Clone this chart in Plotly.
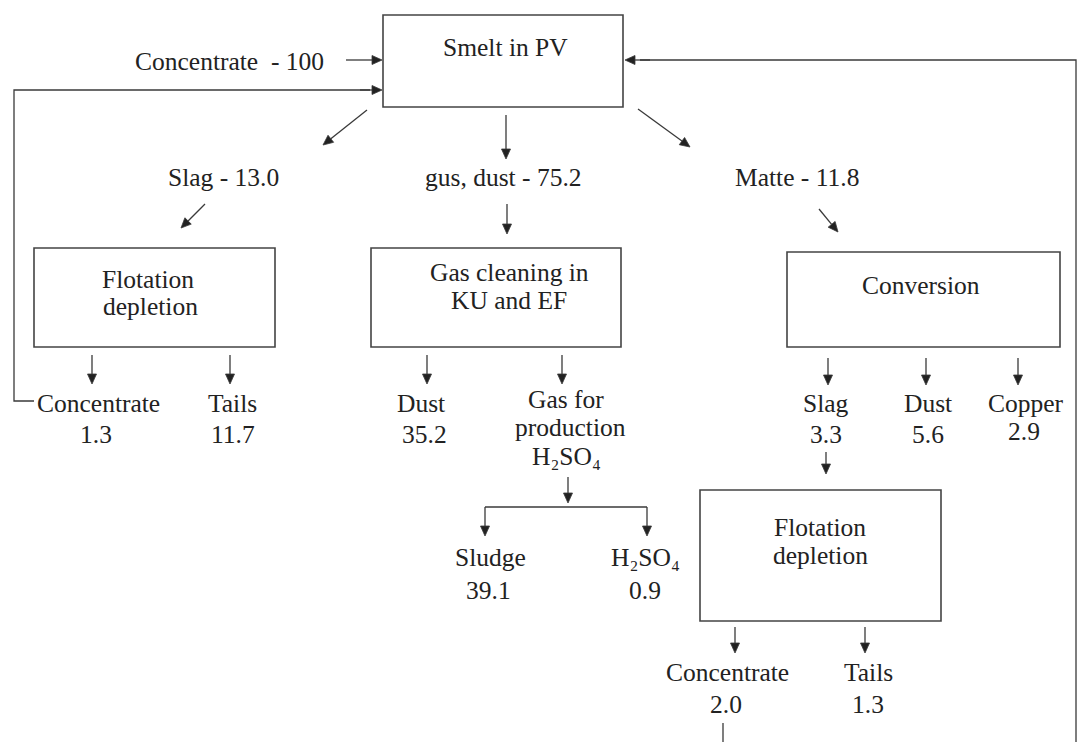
import math
import plotly.graph_objects as go

# ---- data: flow values of the smelting balance ----
ACID = "H\u2082SO\u2084"
feed_label = "Concentrate"
feed_value = "100"
smelt_products = ["Slag", "gus, dust", "Matte"]
smelt_values = ["13.0", "75.2", "11.8"]
flot1_products = ["Concentrate", "Tails"]
flot1_values = ["1.3", "11.7"]
gas_products = ["Dust", "Gas for", "production", ACID]
gas_values = ["35.2"]
acid_products = ["Sludge", ACID]
acid_values = ["39.1", "0.9"]
conv_products = ["Slag", "Dust", "Copper"]
conv_values = ["3.3", "5.6", "2.9"]
flot2_products = ["Concentrate", "Tails"]
flot2_values = ["2.0", "1.3"]
box_titles = [["Smelt in PV"], ["Flotation", "depletion"], ["Gas cleaning in", "KU and EF"],
              ["Conversion"], ["Flotation", "depletion"]]

# ---- layout (pixel coordinates) ----
W, H = 1081, 742
FONT = "Liberation Serif, Times New Roman, serif"
FS = 25.5
TXT = "#222222"
LINE = "#3a3a3a"
HEAD_L, HEAD_W = 10, 4.5

boxes = [(383, 623, 15, 107), (34, 275, 248, 347), (371, 621, 248, 347),
         (787, 1060, 252, 347), (700, 941, 490, 621)]
box_text_pos = [[(505, 47)], [(148, 279), (150, 306)], [(509, 272), (509, 300)],
                [(921, 285)], [(820, 527), (820, 555)]]

fig = go.Figure()
shapes = []
annotations = []


def text(x, y, s):
    annotations.append(dict(x=x, y=y, xref="x", yref="y", text=s, showarrow=False,
                            font=dict(family=FONT, size=FS, color=TXT),
                            xanchor="center", yanchor="middle"))


def line(pts, width=1.3):
    path = "M " + " L ".join(f"{x},{y}" for x, y in pts)
    shapes.append(dict(type="path", path=path, xref="x", yref="y",
                       line=dict(color=LINE, width=width)))


def arrow(x0, y0, x1, y1):
    dx, dy = x1 - x0, y1 - y0
    d = math.hypot(dx, dy)
    ux, uy = dx / d, dy / d
    bx, by = x1 - ux * HEAD_L, y1 - uy * HEAD_L
    line([(x0, y0), (bx, by)])
    px, py = -uy * HEAD_W, ux * HEAD_W
    path = f"M {x1},{y1} L {bx + px},{by + py} L {bx - px},{by - py} Z"
    shapes.append(dict(type="path", path=path, xref="x", yref="y",
                       line=dict(color=LINE, width=0.8), fillcolor="#222222"))


for (x0, x1, y0, y1), titles, pos in zip(boxes, box_titles, box_text_pos):
    shapes.append(dict(type="rect", x0=x0, x1=x1, y0=y0, y1=y1, xref="x", yref="y",
                       line=dict(color="#444444", width=1.6), fillcolor="white"))
    for t, (x, y) in zip(titles, pos):
        text(x, y, t)

# feed
text(229, 61, f"{feed_label}\u00a0\u00a0- {feed_value}")
arrow(346, 60, 382, 60)

# smelt outputs
smelt_pos = [(223, 177), (503, 177), (797, 177)]
for (x, y), p, v in zip(smelt_pos, smelt_products, smelt_values):
    text(x, y, f"{p} - {v}")
arrow(367, 110, 323, 145)
arrow(506, 115, 506, 159)
arrow(638, 109, 690, 147)
arrow(205, 204, 181, 228)
arrow(507, 204, 507, 234)
arrow(819, 209, 838, 232)

# flotation 1 outputs
for ax_, (x, y), p, v in zip([92, 230], [(98, 403), (232, 403)], flot1_products, flot1_values):
    arrow(ax_, 355, ax_, 384)
    text(x, y, p)
    text(x - 2 if p == "Concentrate" else x + 1, y + 31, v)

# gas cleaning outputs
arrow(427, 355, 427, 384)
arrow(562, 355, 562, 384)
text(421, 403, gas_products[0])
text(424, 434, gas_values[0])
text(566, 399, gas_products[1])
text(570, 427, gas_products[2])
text(566, 456, gas_products[3])

# acid plant split
arrow(568, 477, 568, 503)
line([(485, 507), (647, 507)])
for x in [485, 647]:
    arrow(x, 507, x, 536)
for (x, y), p, v in zip([(490, 557), (645, 557)], acid_products, acid_values):
    text(x, y, p)
    text(x - 2 if p == "Sludge" else x, y + 33, v)

# conversion outputs
for ax_, tx, p, v in zip([828, 926, 1018], [826, 928, 1026], conv_products, conv_values):
    arrow(ax_, 358, ax_, 385)
    text(tx, 403, p)
    text(tx if p != "Copper" else 1024, 434 if p != "Copper" else 431, v)
arrow(826, 452, 826, 474)

# flotation 2 outputs
for ax_, tx, p, v in zip([735, 865], [727, 868], flot2_products, flot2_values):
    arrow(ax_, 627, ax_, 653)
    text(tx, 672, p)
    text(tx - 1 if p == "Concentrate" else tx, 704, v)

# recycle loops
line([(34, 401), (14, 401), (14, 90), (370, 90)])
arrow(360, 90, 382, 90)
line([(723, 723), (723, 742)])
line([(1076, 742), (1076, 60), (640, 60)])
arrow(650, 60, 625, 60)

fig.update_layout(
    width=W, height=H, autosize=False,
    margin=dict(l=0, r=0, t=0, b=0),
    paper_bgcolor="white", plot_bgcolor="white",
    xaxis=dict(range=[0, W], visible=False, fixedrange=True),
    yaxis=dict(range=[H, 0], visible=False, fixedrange=True),
    shapes=shapes, annotations=annotations, showlegend=False,
)
fig.write_html("out.html", config={"displayModeBar": False},
               post_script="document.body.style.margin='0';document.body.style.overflow='hidden';")
